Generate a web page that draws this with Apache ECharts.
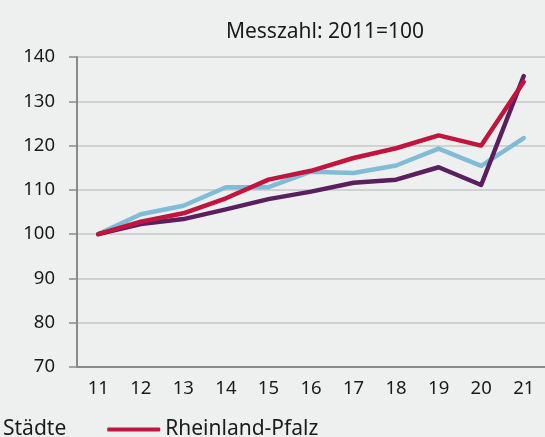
<!DOCTYPE html>
<html>
<head>
<meta charset="utf-8">
<script src="https://cdn.jsdelivr.net/npm/echarts@6/dist/echarts.min.js"></script>
<style>
  html, body { margin: 0; padding: 0; background: #eef0ef; }
  #chart { width: 545px; height: 437px; }
</style>
</head>
<body>
<div id="chart"></div>
<script>
// Jahre (Achsenbeschriftung)
const years = ['11', '12', '13', '14', '15', '16', '17', '18', '19', '20', '21']

// Messzahl 2011 = 100
const rheinlandPfalz = [100, 102.8, 104.7, 108.1, 112.3, 114.3, 117.2, 119.4, 122.3, 120.0, 134.4]
const staedte = [100, 102.3, 103.4, 105.6, 107.9, 109.6, 111.6, 112.3, 115.1, 111.1, 135.7]
const landkreise = [100, 104.5, 106.4, 110.6, 110.6, 114.1, 113.8, 115.5, 119.3, 115.4, 121.7]

const yTicks = { min: 70, max: 140, interval: 10 }

const font = '"Noto Sans", "Open Sans", sans-serif'
const axisGray = '#8a8a8a'

const chart = echarts.init(document.getElementById('chart'), null, { renderer: 'canvas' })

const option = {
  backgroundColor: '#eef0ef',
  animation: false,
  textStyle: { fontFamily: font },
  title: {
    text: 'Messzahl: 2011=100',
    left: 320,
    top: 17,
    textAlign: 'center',
    textStyle: { fontFamily: font, fontSize: 21, fontWeight: 'normal', color: '#1a1a1a' }
  },
  legend: {
    left: -60,
    top: 414,
    itemWidth: 53,
    itemHeight: 4,
    itemGap: 41,
    icon: 'roundRect',
    data: ['Städte', 'Rheinland-Pfalz'],
    textStyle: { fontFamily: font, fontSize: 21, color: '#1a1a1a' }
  },
  grid: [
    // Gitterlinien bis zum rechten Rand
    { left: 77, right: 0, top: 57, bottom: 70 },
    // Zeichenfläche für Kategorien
    { left: 77, width: 475, top: 57, bottom: 70 }
  ],
  xAxis: [
    { gridIndex: 0, type: 'value', show: false, min: 0, max: 1 },
    {
      gridIndex: 1,
      type: 'category',
      data: years,
      boundaryGap: true,
      axisLine: { lineStyle: { color: axisGray, width: 2 } },
      axisTick: { length: 6, lineStyle: { color: axisGray, width: 1.5 } },
      axisLabel: { fontFamily: font, fontSize: 18.5, color: '#1a1a1a', margin: 12 }
    }
  ],
  yAxis: [
    {
      gridIndex: 0,
      type: 'value',
      min: yTicks.min,
      max: yTicks.max,
      interval: yTicks.interval,
      axisLine: { show: true, lineStyle: { color: axisGray, width: 2 } },
      axisTick: { show: true, length: 8, lineStyle: { color: axisGray, width: 1.5 } },
      axisLabel: { fontFamily: font, fontSize: 18.5, color: '#1a1a1a', margin: 22 },
      splitLine: { lineStyle: { color: '#c6c8c7', width: 1.5 } }
    },
    {
      gridIndex: 1,
      type: 'value',
      min: yTicks.min,
      max: yTicks.max,
      interval: yTicks.interval,
      show: false,
      splitLine: { show: false }
    }
  ],
  series: [
    {
      name: 'Landkreise',
      type: 'line',
      xAxisIndex: 1,
      yAxisIndex: 1,
      data: landkreise,
      showSymbol: false,
      color: '#80bcd7',
      lineStyle: { width: 4.5, join: 'round', cap: 'round' }
    },
    {
      name: 'Städte',
      type: 'line',
      xAxisIndex: 1,
      yAxisIndex: 1,
      data: staedte,
      showSymbol: false,
      color: '#5b1f60',
      lineStyle: { width: 4.5, join: 'round', cap: 'round' }
    },
    {
      name: 'Rheinland-Pfalz',
      type: 'line',
      xAxisIndex: 1,
      yAxisIndex: 1,
      data: rheinlandPfalz,
      showSymbol: false,
      color: '#c1143f',
      lineStyle: { width: 4.5, join: 'round', cap: 'round' }
    }
  ]
}

chart.setOption(option)
</script>
</body>
</html>
